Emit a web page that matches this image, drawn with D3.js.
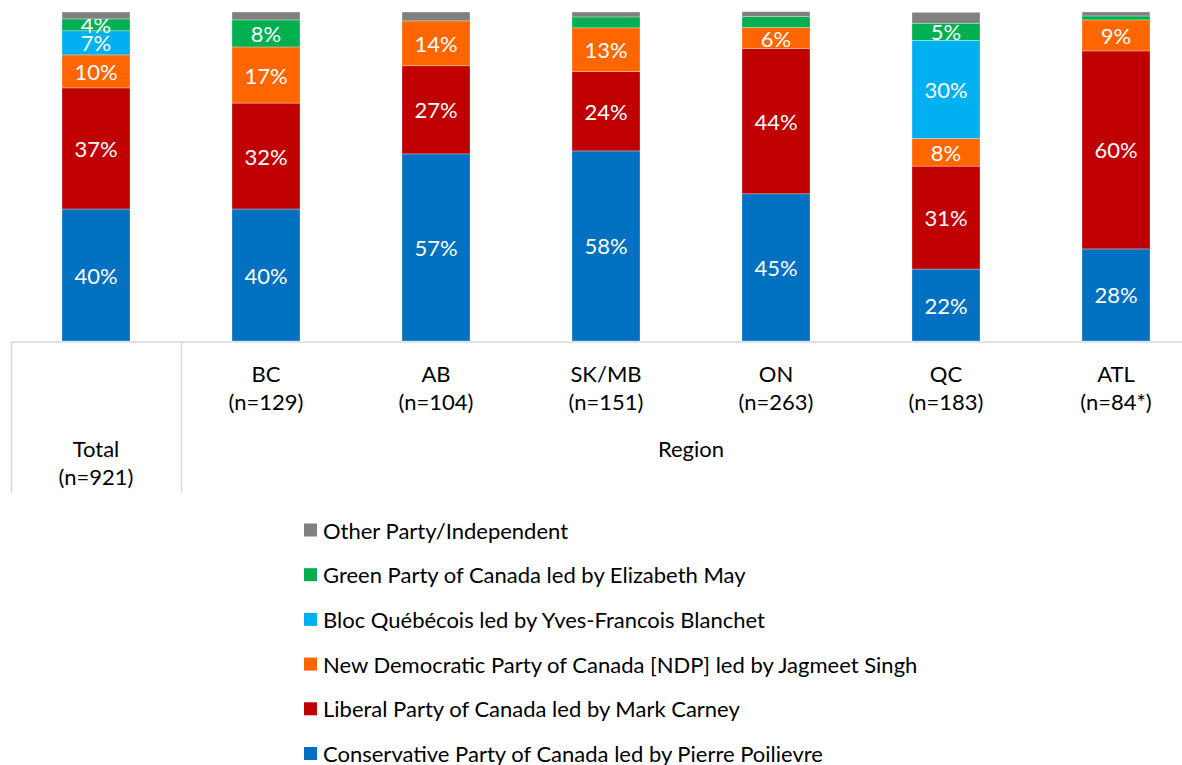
<!DOCTYPE html>
<html>
<head>
    <title>Vote intention by region</title>
    <script src="https://d3js.org/d3.v7.min.js"></script>
    <style>
        body { margin: 0; background: #fff; }
        text { font-family: Lato, "Open Sans", sans-serif; }
    </style>
</head>
<body>
    <svg id="chart" width="1182" height="765"></svg>

    <script>
        // categories (bottom to top of stack)
        const groups = ['Total', 'BC', 'AB', 'SK/MB', 'ON', 'QC', 'ATL'];
        const sampleSizes = ['(n=921)', '(n=129)', '(n=104)', '(n=151)', '(n=263)', '(n=183)', '(n=84*)'];
        const parties = [
            'Conservative Party of Canada led by Pierre Poilievre',
            'Liberal Party of Canada led by Mark Carney',
            'New Democratic Party of Canada [NDP] led by Jagmeet Singh',
            'Bloc Québécois led by Yves-Francois Blanchet',
            'Green Party of Canada led by Elizabeth May',
            'Other Party/Independent'
        ];
        const partyColors = ['#0070C0', '#C00000', '#FF6600', '#00B0F0', '#00B050', '#808080'];

        // % per group
        const conservative = [40.0, 40.0, 56.7, 57.6, 44.6, 21.8, 27.9];
        const liberal      = [36.7, 32.1, 26.7, 24.0, 44.0, 31.2, 60.0];
        const ndp          = [10.0, 17.0, 13.6, 13.3, 6.4, 8.4, 9.4];
        const bloc         = [7.3, 0, 0, 0, 0, 29.7, 0];
        const green        = [3.6, 8.2, 0, 3.3, 3.3, 5.2, 1.2];
        const other        = [2.1, 2.4, 2.7, 1.5, 1.5, 3.3, 1.2];

        const series = [conservative, liberal, ndp, bloc, green, other];

        const svg = d3.select('#chart');

        const x = d3.scaleBand()
            .domain(groups)
            .range([11, 1201])
            .paddingInner(0.6)
            .paddingOuter(0.3);
        // plain band, used for the table dividers
        const xStep = d3.scaleBand().domain(groups).range([11, 1201]);

        const y = d3.scaleLinear().domain([0, 100]).range([341, 11]);

        // stacked data
        const rows = groups.map((g, i) => {
            const r = { group: g };
            parties.forEach((p, k) => { r[p] = series[k][i]; });
            return r;
        });
        const stacked = d3.stack().keys(parties)(rows);

        const layer = svg.append('g')
            .selectAll('g')
            .data(stacked)
            .join('g')
            .attr('fill', (d, k) => partyColors[k]);

        layer.selectAll('rect')
            .data(d => d.map(v => ({ lo: v[0], hi: v[1], group: v.data.group })))
            .join('rect')
            .attr('x', d => x(d.group))
            .attr('width', x.bandwidth())
            .attr('y', d => y(d.hi))
            .attr('height', d => y(d.lo) - y(d.hi))
            .attr('stroke', '#fff')
            .attr('stroke-opacity', 0.5)
            .attr('stroke-width', 0.6);

        // value labels
        layer.selectAll('text')
            .data(d => d.map(v => ({ lo: v[0], hi: v[1], group: v.data.group })))
            .join('text')
            .filter(d => Math.round(d.hi - d.lo) >= 4)
            .attr('x', d => x(d.group) + x.bandwidth() / 2)
            .attr('y', d => (y(d.lo) + y(d.hi)) / 2)
            .attr('text-anchor', 'middle')
            .attr('dominant-baseline', 'central')
            .attr('fill', '#fff')
            .attr('font-size', '22px')
            .text(d => Math.round(d.hi - d.lo) + '%');

        // category table lines
        const axisG = svg.append('g').attr('stroke', '#d9d9d9').attr('stroke-width', 1.5);
        axisG.append('line').attr('x1', 11).attr('x2', 1182).attr('y1', y(0) + 1).attr('y2', y(0) + 1);
        axisG.append('line').attr('x1', 11.5).attr('x2', 11.5).attr('y1', y(0) + 1).attr('y2', 493);
        axisG.append('line').attr('x1', xStep('BC') + 0.5).attr('x2', xStep('BC') + 0.5).attr('y1', y(0) + 1).attr('y2', 493);

        const labels = svg.append('g')
            .attr('text-anchor', 'middle')
            .attr('font-size', '22px')
            .attr('fill', '#000');

        groups.forEach((g, i) => {
            const cx = x(g) + x.bandwidth() / 2;
            const top = g === 'Total' ? 457 : 382;
            labels.append('text').attr('x', cx).attr('y', top).text(g);
            labels.append('text').attr('x', cx).attr('y', top + 28).text(sampleSizes[i]);
        });
        labels.append('text')
            .attr('x', (xStep('BC') + 1201) / 2)
            .attr('y', 457)
            .text('Region');

        // legend, top item = last series
        const legend = svg.append('g').attr('transform', 'translate(304,530)');
        const legendItems = parties.map((p, k) => ({ name: p, color: partyColors[k] })).reverse();
        const item = legend.selectAll('g')
            .data(legendItems)
            .join('g')
            .attr('transform', (d, i) => `translate(0,${i * 44.7})`);
        item.append('rect')
            .attr('x', 0).attr('y', -6.5)
            .attr('width', 13).attr('height', 13)
            .attr('fill', d => d.color);
        item.append('text')
            .attr('x', 19).attr('y', 0)
            .attr('dominant-baseline', 'central')
            .attr('font-size', '22px')
            .attr('fill', '#000')
            .text(d => d.name);
    </script>
</body>
</html>
